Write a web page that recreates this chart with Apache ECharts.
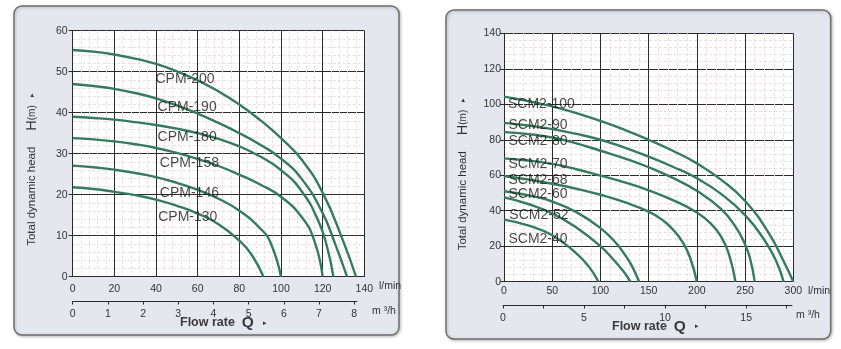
<!DOCTYPE html>
<html>
<head>
<meta charset="utf-8">
<script src="https://cdn.jsdelivr.net/npm/echarts@6/dist/echarts.min.js"></script>
<style>
html,body{margin:0;padding:0;background:#fff;}
#chart{width:841px;height:349px;}
</style>
</head>
<body>
<div id="chart"></div>
<script>
// ---------- DATA (flow l/min, head m) ----------
const cpmNames = ['CPM-200','CPM-190','CPM-180','CPM-158','CPM-146','CPM-130'];
const CPM_200 = [[0,55.3],[10,54.9],[20,54.2],[30,53.2],[40,51.9],[50,50.1],[60,47.9],[70,45.2],[80,42],[90,38.2],[100,33.8],[110,28.5],[120,20.5],[130,8.5],[136,0]];
const CPM_190 = [[0,47],[10,46.5],[20,45.8],[30,44.8],[40,43.5],[50,41.8],[60,39.8],[70,37.5],[80,35],[90,32.2],[100,28.8],[110,23.8],[120,15.5],[126,8],[131.7,0]];
const CPM_180 = [[0,39],[10,38.7],[20,38.3],[30,37.7],[40,37],[50,36.1],[60,35],[70,33.6],[80,31.8],[90,29.3],[100,26],[110,20.8],[118,13.5],[122,7.5],[125.2,0]];
const CPM_158 = [[0,33.8],[10,33.5],[20,33],[30,32.3],[40,31.4],[50,30.2],[60,28.7],[70,27],[80,24.9],[90,22.5],[100,19.5],[110,14.5],[116,8.8],[120,0]];
const CPM_146 = [[0,27.1],[10,26.7],[20,26.1],[30,25.3],[40,24.3],[50,22.9],[60,21.2],[70,19],[80,16.1],[90,11.8],[95,8.3],[100,0]];
const CPM_130 = [[0,21.8],[10,21.4],[20,20.7],[30,19.9],[40,18.8],[50,17.3],[60,15.4],[70,12.8],[80,8.8],[86,5.3],[91.6,0]];
const cpmCurves = [CPM_200, CPM_190, CPM_180, CPM_158, CPM_146, CPM_130];
const cpmLabelPos = [[39.5,48.1],[40.5,41.3],[40.5,34.1],[41.6,27.6],[41.6,20.4],[40.8,14.5]];

const scmNames = ['SCM2-100','SCM2-90','SCM2-80','SCM2-70','SCM2-68','SCM2-60','SCM2-52','SCM2-40'];
const SCM2_100 = [[0,104.3],[25,101.8],[50,98.8],[75,95],[100,90.6],[125,85.6],[150,80],[175,73.8],[200,66.7],[225,57.5],[250,45.5],[275,27],[290,11.5],[300,0]];
const SCM2_90  = [[0,89.5],[25,88],[50,86],[75,83.3],[100,80],[125,75.6],[150,70.5],[175,64.8],[200,58.3],[225,49.5],[250,37.5],[270,23.5],[282,12],[290,0]];
const SCM2_80  = [[0,84.3],[25,83.2],[50,81.3],[75,78],[100,73.8],[125,69.5],[150,64.5],[175,58.5],[200,51.2],[225,41],[240,31],[250,21],[255,13.5],[260,0]];
const SCM2_70  = [[0,69.5],[25,68.3],[50,66.4],[75,63.4],[100,59.8],[125,56],[150,51.5],[175,46],[200,39],[215,32.5],[225,25.5],[233,16],[240,0]];
const SCM2_68  = [[0,59.6],[25,57.6],[50,55.2],[75,52.4],[100,49],[125,44.8],[150,39.5],[165,34.5],[175,29.5],[185,22.5],[193,13.5],[200,0]];
const SCM2_60  = [[0,51],[25,48.7],[50,45.2],[75,39.2],[100,30.2],[115,22.5],[125,15.5],[133,8.5],[140,0]];
const SCM2_52  = [[0,47.5],[25,43.8],[50,38.5],[75,30.5],[100,20],[115,11.5],[125,5],[131,0]];
const SCM2_40  = [[0,35],[25,31.7],[50,26.2],[75,16],[88,8.5],[98,0]];
const scmCurves = [SCM2_100, SCM2_90, SCM2_80, SCM2_70, SCM2_68, SCM2_60, SCM2_52, SCM2_40];
const scmLabelPos = [[3.6,100.2],[4.1,88.3],[4.1,79.3],[4.1,66.3],[4.1,57.3],[4.1,49.3],[5,37.6],[4.1,23.9]];

const cpmM3Ticks = [0,1,2,3,4,5,6,7,8];
const scmM3Ticks = [0,2.5,5,7.5,10,12.5,15,17.5];
const scmM3Labels = [0,5,10,15];

// ---------- STYLE ----------
const FONT = "'Liberation Sans', Arial, sans-serif";
const CURVE = '#347b60';
const DARK = '#2b2b2b';
const TXT = '#333';
const MINOR = '#ecdde0';

function mainX(grid, max, interval, labelMargin, nameGap){
  return {
    gridIndex: grid, type:'value', min:0, max:max, interval:interval,
    axisLine:{show:true, lineStyle:{color:DARK, width:1}},
    axisTick:{show:false},
    axisLabel:{fontSize:10.5, color:TXT, margin:labelMargin, fontFamily:FONT},
    splitLine:{show:true, lineStyle:{color:DARK, width:1}},
    minorTick:{show:false, splitNumber:5},
    minorSplitLine:{show:true, lineStyle:{color:MINOR, width:1, type:[3,2]}},
    name:'l/min', nameLocation:'end', nameGap:nameGap,
    nameTextStyle:{fontSize:10.5, color:TXT, fontFamily:FONT, verticalAlign:'top', align:'left', padding:[4,0,0,0]}
  };
}
function mainY(grid, max, interval, labelMargin){
  return {
    gridIndex: grid, type:'value', min:0, max:max, interval:interval,
    axisLine:{show:true, lineStyle:{color:DARK, width:1}},
    axisTick:{show:true, length:4, lineStyle:{color:DARK}},
    axisLabel:{fontSize:10.5, color:TXT, margin:labelMargin, fontFamily:FONT},
    splitLine:{show:true, lineStyle:{color:DARK, width:1}},
    minorTick:{show:false, splitNumber:5},
    minorSplitLine:{show:true, lineStyle:{color:MINOR, width:1, type:[3,2]}}
  };
}
function secX(grid, max, ticks, labels, nameGap){
  return {
    gridIndex: grid, type:'value', min:0, max:max, position:'bottom',
    axisLine:{show:true, lineStyle:{color:DARK, width:1}},
    axisTick:{show:true, length:3, customValues:ticks, lineStyle:{color:DARK}},
    axisLabel:{show:true, customValues:labels, fontSize:10.5, color:TXT, margin:7, fontFamily:FONT},
    splitLine:{show:false},
    name:'m \u00b3/h', nameLocation:'end', nameGap:nameGap,
    nameTextStyle:{fontSize:10.5, color:TXT, fontFamily:FONT, verticalAlign:'top', align:'left', padding:[4,0,0,0]}
  };
}

const series = [];
cpmCurves.forEach((d,i)=>{
  series.push({type:'line', name:cpmNames[i], xAxisIndex:0, yAxisIndex:0, data:d,
    smooth:0.5, showSymbol:false, symbol:'none', z:3,
    lineStyle:{color:CURVE, width:2.4}});
});
series.push({type:'scatter', xAxisIndex:0, yAxisIndex:0, symbolSize:1, z:10,
  itemStyle:{color:'rgba(0,0,0,0)'},
  data: cpmLabelPos.map((p,i)=>({value:p, name:cpmNames[i]})),
  label:{show:true, position:'right', distance:0, formatter:'{b}', fontSize:14, color:'#1a1a1a', fontFamily:FONT}});

scmCurves.forEach((d,i)=>{
  series.push({type:'line', name:scmNames[i], xAxisIndex:2, yAxisIndex:2, data:d,
    smooth:0.5, showSymbol:false, symbol:'none', z:3,
    lineStyle:{color:CURVE, width:2.4}});
});
series.push({type:'scatter', xAxisIndex:2, yAxisIndex:2, symbolSize:1, z:10,
  itemStyle:{color:'rgba(0,0,0,0)'},
  data: scmLabelPos.map((p,i)=>({value:p, name:scmNames[i]})),
  label:{show:true, position:'right', distance:0, formatter:'{b}', fontSize:14, color:'#1a1a1a', fontFamily:FONT}});

function yTitle(x, y){
  return {type:'text', x:x, y:y, rotation:Math.PI/2, z:100,
    style:{text:'{t|Total dynamic head}{h|H}{m|(m)}{d|\u25b8}', align:'center', verticalAlign:'middle',
      fill:TXT, font:'11.5px ' + FONT,
      rich:{
        t:{fontSize:11.5, fill:TXT, fontFamily:FONT},
        h:{fontSize:14.5, fill:TXT, fontFamily:FONT, padding:[0,0,0,16]},
        m:{fontSize:10, fill:TXT, fontFamily:FONT},
        d:{fontSize:7, fill:TXT, fontFamily:FONT, padding:[0,0,0,8]}
      }}};
}
function flowTitle(x, y){
  return {type:'text', x:x, y:y, z:100,
    style:{text:'{f|Flow rate}{q|Q}{d|\u25b8}', align:'left', verticalAlign:'middle',
      fill:TXT, font:'12.5px ' + FONT,
      rich:{
        f:{fontSize:12.5, fontWeight:'bold', fill:'#3a3a3a', fontFamily:FONT},
        q:{fontSize:15.5, fontWeight:'bold', fill:'#3a3a3a', fontFamily:FONT, padding:[0,0,0,7]},
        d:{fontSize:7, fill:TXT, fontFamily:FONT, padding:[0,0,0,9]}
      }}};
}

const panelStyle = {fill:'#e4e7ee', stroke:'#6f6f6f', lineWidth:1.5,
  shadowBlur:3, shadowColor:'rgba(0,0,0,0.25)', shadowOffsetX:1, shadowOffsetY:1};

const option = {
  animation:false,
  backgroundColor:'#ffffff',
  textStyle:{fontFamily:FONT},
  grid:[
    {left:72.7, top:30.7, width:291.6, height:246, show:true, backgroundColor:'#ffffff', borderWidth:0},
    {left:72.7, top:290, width:284.3, height:11.5, show:false},
    {left:504, top:33.3, width:289.3, height:248.4, show:true, backgroundColor:'#ffffff', borderWidth:0},
    {left:503, top:294, width:289, height:11.5, show:false}
  ],
  xAxis:[
    mainX(0, 140, 20, 7, 8),
    secX(1, 8.08, cpmM3Ticks, cpmM3Ticks, 15),
    mainX(2, 300, 50, 3.5, 11),
    secX(3, 17.83, scmM3Ticks, scmM3Labels, 4)
  ],
  yAxis:[
    mainY(0, 60, 10, 5),
    {gridIndex:1, type:'value', min:0, max:1, show:false},
    mainY(2, 140, 20, 3),
    {gridIndex:3, type:'value', min:0, max:1, show:false}
  ],
  series: series,
  graphic:[
    {type:'rect', z:-10, shape:{x:14, y:6, width:385, height:329, r:8}, style:panelStyle},
    {type:'rect', z:-10, shape:{x:446, y:10, width:384.7, height:329, r:8}, style:panelStyle},
    yTitle(32, 169.5),
    yTitle(463, 174),
    flowTitle(180, 323),
    flowTitle(612, 326.5)
  ]
};

const chart = echarts.init(document.getElementById('chart'), null, {renderer:'canvas'});
chart.setOption(option);
</script>
</body>
</html>
